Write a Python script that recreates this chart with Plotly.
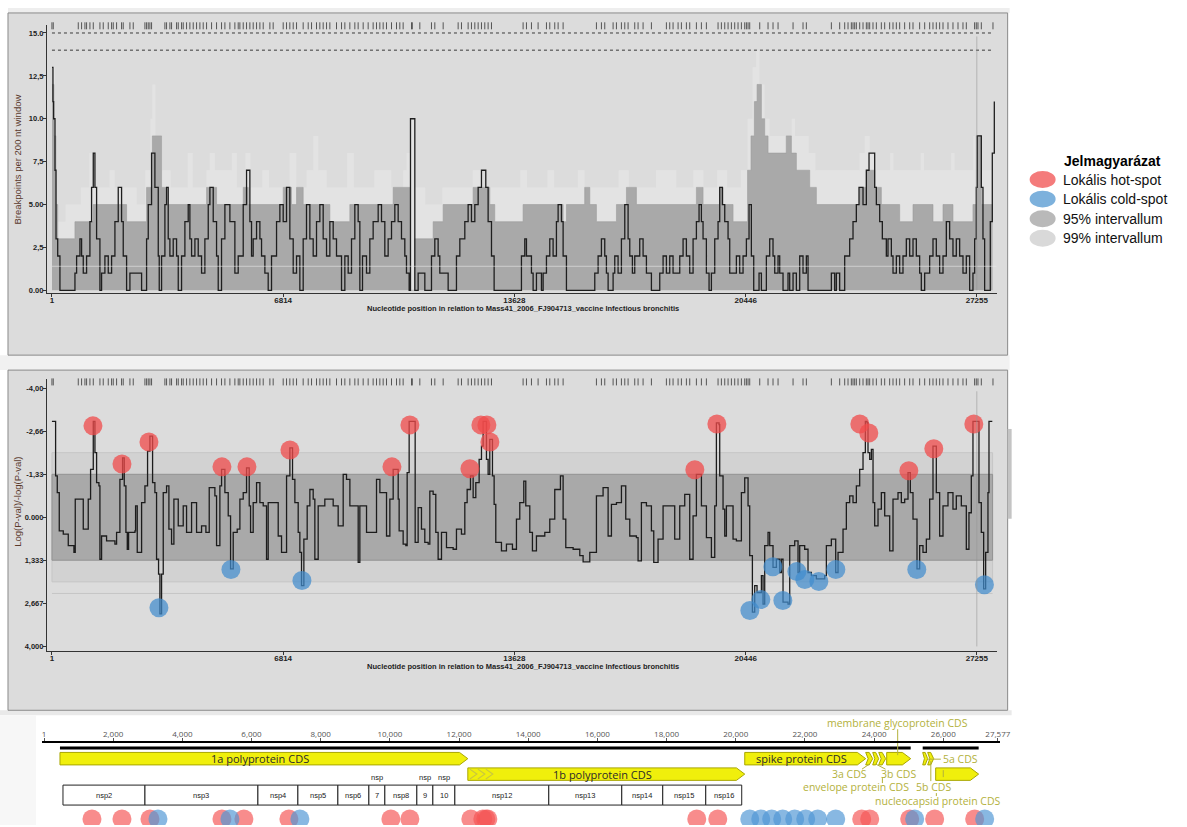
import plotly.graph_objects as go

W, H = 1187, 827
KX = 1.009                # horizontal compensation for the capture's slight squeeze
FONT = "Liberation Sans, Arial, sans-serif"
MAPFONT = "Open Sans, Noto Sans, sans-serif"

# ---------------- axis ticks ----------------
POS_TICKS = [1, 6814, 13628, 20446, 27255]
TOP_YTICKS = [0, 2.5, 5, 7.5, 10, 12.5, 15]
TOP_YTEXT = ["0.00", "2,5", "5.00", "7,5", "10.0", "12,5", "15.0"]
MID_YTICKS = [-4, -2.66, -1.33, 0, 1.333, 2.667, 4]
MID_YTEXT = ["-4,00", "-2,66", "-1,33", "0.000", "1,333", "2,667", "4,000"]
GEN_TICKS = [1, 2000, 4000, 6000, 8000, 10000, 12000, 14000, 16000, 18000, 20000, 22000, 24000, 26000, 27577]
GEN_TICKTEXT = ["1", "2,000", "4,000", "6,000", "8,000", "10,000", "12,000", "14,000", "16,000",
                "18,000", "20,000", "22,000", "24,000", "26,000", "27,577"]

# ---------------- top panel: breakpoints per 200 nt window ----------------
bp_pos = [1, 30, 50, 90, 120, 170, 236, 678, 727, 825, 874, 923, 1021, 1119, 1168, 1218, 1267, 1316, 1414,
          1463, 1561, 1660, 1758, 1856, 1954, 2052, 2101, 2200, 2298, 2642, 2789, 2838, 2936, 3034, 3133,
          3162, 3231, 3329, 3378, 3427, 3476, 3574, 3673, 3722, 3820, 3918, 4016, 4065, 4115, 4213, 4311,
          4409, 4507, 4606, 4655, 4753, 4851, 4900, 4998, 5097, 5244, 5391, 5489, 5637, 5735, 5833, 5882,
          5931, 6030, 6128, 6177, 6275, 6373, 6471, 6619, 6717, 6815, 6913, 7011, 7110, 7208, 7306, 7404,
          7502, 7601, 7699, 7797, 7895, 7993, 8092, 8190, 8288, 8386, 8534, 8632, 8730, 8828, 8926, 9024,
          9074, 9152, 9270, 9368, 9466, 9614, 9712, 9810, 9908, 10007, 10105, 10203, 10301, 10399, 10448,
          10527, 10566, 10694, 10792, 10989, 11185, 11283, 11381, 11430, 11676, 11921, 12020, 12167, 12265,
          12363, 12462, 12560, 12658, 12785, 12854, 12953, 13031, 13836, 13934, 13984, 14131, 14180, 14278,
          14426, 14475, 14573, 14671, 14769, 14867, 14917, 15015, 15064, 15162, 15997, 16095, 16193, 16291,
          16340, 16390, 16537, 16586, 16684, 16782, 16881, 16979, 17028, 17106, 17175, 17322, 17421, 17519,
          17666, 17912, 18010, 18108, 18206, 18304, 18501, 18599, 18697, 18795, 18894, 18992, 19070, 19139,
          19188, 19286, 19365, 19434, 19532, 19630, 19679, 19758, 19827, 19925, 19974, 20170, 20268, 20367,
          20465, 20543, 20612, 20681, 20838, 20907, 21054, 21152, 21250, 21300, 21398, 21447, 21545, 21692,
          21741, 21840, 21938, 22036, 22134, 22232, 22282, 22969, 23067, 23116, 23214, 23362, 23509, 23607,
          23705, 23784, 23902, 24000, 24079, 24246, 24295, 24393, 24471, 24589, 24638, 24737, 24786, 24884,
          24982, 25080, 25178, 25277, 25375, 25473, 25571, 25620, 25719, 25866, 25964, 26062, 26160, 26259,
          26357, 26455, 26553, 26651, 26750, 26848, 26946, 27044, 27142, 27191, 27240, 27270, 27388, 27437,
          27486, 27653, 27712, 27771]
bp_val = [13, 11, 10, 7, 3, 2, 0, 1, 2, 3, 2, 1, 2, 4, 6, 8, 6, 3, 0,
          1, 2, 1, 2, 4, 6, 4, 2, 0, 1, 0, 3, 5, 8, 6, 2,
          0, 2, 5, 6, 3, 2, 3, 2, 0, 2, 4, 5, 3, 2, 3, 2,
          1, 3, 5, 6, 4, 2, 0, 3, 5, 4, 1, 2, 5, 7, 4, 2,
          3, 4, 3, 2, 1, 0, 2, 4, 5, 4, 6, 3, 1, 2, 0, 3,
          5, 3, 2, 4, 5, 3, 2, 4, 3, 2, 0, 2, 1, 3, 5, 4,
          0, 2, 1, 3, 4, 5, 4, 2, 3, 4, 5, 4, 3, 2, 1,
          0, 10, 0, 1, 0, 2, 3, 2, 1, 0, 2, 3, 4, 5,
          4, 5, 6, 7, 6, 4, 2, 0, 2, 3, 2, 1, 0, 1,
          0, 1, 2, 3, 2, 4, 5, 4, 2, 0, 1, 2, 3, 2,
          1, 0, 1, 2, 1, 3, 5, 3, 2, 1, 2, 3, 2, 1,
          0, 1, 2, 1, 2, 1, 2, 3, 2, 1, 3, 4, 5, 4,
          3, 1, 0, 1, 3, 4, 6, 5, 4, 3, 1, 2, 1, 2,
          3, 5, 2, 0, 1, 0, 2, 3, 2, 1, 2, 1, 0, 1,
          0, 1, 0, 2, 1, 2, 0, 1, 0, 1, 0, 2, 3, 4,
          5, 6, 5, 7, 8, 6, 5, 4, 3, 2, 3, 2, 1, 2,
          1, 2, 3, 2, 3, 2, 1, 0, 1, 2, 3, 2, 1, 2,
          4, 3, 2, 3, 2, 1, 2, 0, 1, 3, 6, 9, 6, 3,
          0, 4, 8, 11]

ci95_pos = [1, 60, 120, 170, 678, 1218, 2200, 2789, 2960, 3231, 3378, 4557, 4851, 5637, 5784, 6815, 7060,
            7208, 7404, 8190, 8779, 10056, 10566, 10694, 10743, 11234, 11529, 12412, 12903, 13050, 13885,
            15064, 15162, 15700, 15850, 16046, 16636, 16930, 17224, 18992, 19188, 19679, 19777, 20072,
            20500, 20600, 20700, 20780, 20907, 21005, 21103, 21640, 21791, 21938, 22331, 22527, 23804,
            24000, 24246, 24442, 24982, 25375, 25964, 26259, 26553, 27142, 27240, 27388, 27720]
ci95_val = [12, 9, 5, 3, 4, 5, 4, 6, 9, 6, 5, 6, 5, 6, 5, 6, 5,
            6, 5, 4, 5, 6, 0, 3, 3, 4, 5, 6, 5, 4, 5,
            4, 5, 6, 5, 4, 5, 6, 5, 6, 5, 6, 5, 4,
            7, 9, 11, 12, 10, 9, 8, 9, 8, 7, 6, 5, 6,
            7, 6, 5, 4, 5, 4, 5, 4, 5, 9, 5, 5]

ci99_pos = [1, 90, 150, 400, 850, 1100, 1300, 1700, 1850, 2500, 2750, 2900, 2960, 3050, 3250, 3500, 4000,
            4150, 4550, 4650, 4800, 5300, 5450, 5700, 5850, 6200, 6400, 7000, 7200, 7500, 7700, 7850, 8100,
            8700, 8900, 9500, 10000, 10350, 10450, 10566, 10694, 11000, 11500, 12400, 12700, 13800, 14000,
            14600, 14800, 15500, 15700, 16700, 17000, 17800, 18400, 18900, 19200, 19600, 19900, 20300, 20500,
            20650, 20750, 20850, 21000, 21150, 21800, 21900, 22300, 22500, 23800, 23950, 24100, 24300, 24700,
            24800, 25600, 25700, 26500, 26600, 27150, 27350, 27720]
ci99_val = [13, 9, 4, 5, 6, 8, 6, 7, 6, 5, 7, 10, 12, 9, 7, 6, 8,
            6, 7, 8, 7, 8, 6, 8, 6, 7, 6, 8, 6, 7, 9, 7, 6,
            8, 6, 7, 6, 7, 8, 10, 6, 5, 6, 7, 6, 7, 6,
            7, 6, 7, 6, 7, 6, 7, 6, 7, 6, 7, 6, 7, 10,
            13, 14, 12, 10, 9, 10, 9, 8, 7, 8, 9, 8, 7, 8,
            7, 8, 7, 8, 7, 9, 7, 7]

rug_pos = [0, 39, 776, 874, 972, 1021, 1119, 1218, 1414, 1512, 1660, 1758, 1807, 1905, 2052, 2101, 2298, 2396,
           2740, 2789, 2838, 2887, 2936, 3329, 3378, 3476, 3525, 3673, 3722, 3820, 3869, 3967, 4065, 4164,
           4262, 4360, 4458, 4557, 4704, 4851, 4998, 5097, 5244, 5391, 5489, 5538, 5637, 5735, 5833, 5931,
           6030, 6128, 6226, 6422, 6520, 6815, 6913, 7011, 7110, 7208, 7404, 7552, 7650, 7797, 7895, 7993,
           8092, 8190, 8386, 8534, 8632, 8779, 8926, 9024, 9172, 9319, 9466, 9565, 9663, 9761, 9859, 10007,
           10154, 10252, 10350, 10596, 10620, 10841, 11185, 11283, 11529, 11971, 12069, 12265, 12363, 12462,
           12560, 12658, 12756, 12854, 12953, 13885, 13984, 14131, 14327, 14573, 14671, 14818, 14917, 15064,
           16046, 16193, 16291, 16537, 16635, 16782, 16881, 16979, 17175, 17273, 17421, 17666, 18108, 18206,
           18304, 18452, 18550, 18697, 18795, 18992, 19139, 19286, 19630, 19728, 19827, 19925, 20023, 20121,
           20219, 20318, 20416, 20465, 20514, 20563, 20858, 21103, 21250, 21398, 21840, 22134, 22232, 22969,
           23214, 23362, 23460, 23558, 23607, 23656, 23705, 23804, 23902, 24000, 24049, 24098, 24196, 24295,
           24442, 24540, 24687, 24786, 24884, 24982, 25129, 25277, 25375, 25571, 25719, 25866, 25964, 26062,
           26160, 26259, 26406, 26553, 26701, 26848, 26946, 27191, 27240, 27289, 27388, 27732]

# ---------------- middle panel: log(P) ----------------
mid_pos = [0, 88, 108, 157, 216, 334, 481, 648, 687, 874, 923, 1041, 1070, 1139, 1218, 1267, 1316, 1385,
           1414, 1463, 1610, 1856, 1905, 2003, 2082, 2131, 2180, 2220, 2259, 2446, 2465, 2514, 2612, 2642,
           2740, 2818, 2887, 2966, 3034, 3083, 3142, 3182, 3231, 3280, 3378, 3447, 3525, 3594, 3722, 3869,
           3967, 4115, 4262, 4409, 4537, 4635, 4802, 4851, 4949, 4999, 5097, 5195, 5264, 5342, 5460, 5539,
           5637, 5735, 5814, 5853, 5931, 6030, 6128, 6226, 6324, 6373, 6619, 6668, 6766, 6835, 6914, 7012,
           7090, 7159, 7257, 7306, 7355, 7424, 7522, 7601, 7699, 7748, 7846, 8042, 8288, 8435, 8583, 8681,
           8780, 9025, 9074, 9271, 9565, 9664, 9860, 9958, 10056, 10204, 10232, 10350, 10429, 10468, 10527,
           10664, 10704, 10792, 10890, 10988, 11087, 11136, 11234, 11312, 11381, 11480, 11627, 11823, 11921,
           12068, 12167, 12236, 12334, 12413, 12491, 12589, 12658, 12707, 12756, 12805, 12854, 12903, 12982,
           13031, 13080, 13247, 13394, 13571, 13689, 13787, 13905, 13964, 14082, 14160, 14278, 14524, 14671,
           14818, 14985, 15064, 15143, 15359, 15555, 15653, 15850, 16046, 16242, 16390, 16488, 16636, 16783,
           16910, 17028, 17224, 17273, 17371, 17519, 17666, 17735, 17862, 18010, 18206, 18353, 18501, 18648,
           18795, 18894, 18992, 19140, 19287, 19434, 19532, 19581, 19660, 19679, 19777, 19827, 19876, 20023,
           20072, 20170, 20318, 20416, 20514, 20563, 20642, 20710, 20779, 20907, 20956, 21005, 21103, 21152,
           21250, 21349, 21447, 21496, 21545, 21692, 21742, 21889, 21987, 22036, 22183, 22281, 22380, 22527,
           22674, 22773, 22822, 22969, 23097, 23166, 23313, 23411, 23509, 23607, 23706, 23804, 23902, 23971,
           24020, 24049, 24099, 24148, 24197, 24246, 24344, 24442, 24541, 24688, 24786, 24933, 25031, 25130,
           25228, 25296, 25375, 25493, 25571, 25669, 25768, 25866, 25964, 26062, 26160, 26259, 26406, 26553,
           26651, 26799, 26946, 27024, 27093, 27142, 27260, 27319, 27388, 27457, 27516, 27584, 27614, 27712]
mid_val = [-2.97, -2.97, -1.28, -0.76, 0.42, 0.52, 0.88, 1.09, -0.56, -0.56, 0.37, 0.37, -0.56, -1.48, -2.97,
           -2.0, -1.07, -0.97, 1.30, 0.58, 0.73, 0.83, 0.47, -1.17, -1.84, -0.97, 0.47, 0.99, 0.47, 0.42,
           -0.35, 1.09, 1.09, -0.45, -0.97, -2.05, -2.51, -1.07, -0.76, 1.30, 1.76, 2.99, 1.76, -0.76, -0.97,
           0.37, 0.83, -0.56, 0.27, -0.35, 0.47, -0.45, 0.47, 0.27, 0.47, -0.92, -0.66, 0.88, -0.97, -1.48,
           -0.76, -0.04, 1.60, 0.47, 0.37, -0.56, -0.76, -1.53, -0.35, 0.47, -0.45, -1.07, -0.45, -0.35, 1.30,
           -0.45, -0.45, 0.58, 1.09, 1.09, -1.28, -2.15, -1.17, -0.45, 0.47, 1.09, 2.12, 0.68, -0.35, -0.86,
           -0.56, 1.30, -0.35, -0.56, -0.35, 0.27, -1.33, -1.17, -0.35, 1.40, -0.35, 0.47, -1.17, -0.76, 0.58,
           -0.56, -1.48, -0.56, 0.42, 0.83, 0.88, -1.38, -2.97, -2.97, 0.78, -0.30, 0.37, 0.78, 0.83, -0.81,
           -0.71, 0.47, 1.30, 0.47, 0.94, 0.99, 0.37, 0.52, -0.45, -0.86, -1.28, -0.61, -1.07, -1.79, -2.20,
           -2.97, -2.97, -1.79, -1.33, -2.41, -1.28, -0.40, 0.78, 1.04, 0.83, 0.99, 0.06, -0.45, -1.12, -0.35,
           0.47, 1.04, 0.58, 0.47, 0.06, -0.86, -1.28, 0.06, 0.94, 0.99, 1.19, 1.38, 1.09, -0.66, -0.92, 0.58,
           -0.40, -0.45, -0.97, 0.06, 0.58, 0.63, 1.35, -0.45, -0.35, 0.42, 1.40, 0.68, -0.35, -0.35, 0.68,
           -0.35, -0.71, 1.30, -0.04, -1.33, -0.35, 0.63, 1.24, -0.35, -2.92, -2.87, -1.28, -0.25, 0.58, -0.35,
           -0.35, 0.68, 0.73, -0.76, -1.22, -0.35, 1.19, 2.94, 2.12, 2.33, 1.81, 2.69, 0.88, 0.47, 0.88, 1.55,
           1.30, 1.71, 1.30, 2.63, 2.69, 0.88, 0.73, 1.71, 0.88, 0.99, 1.71, 1.81, 1.91, 1.91, 1.81, 0.88,
           0.68, 1.71, 1.09, 0.37, -0.45, -0.66, -0.45, -0.97, -1.48, -2.0, -2.97, -2.92, -2.0, -1.79, -2.10,
           -0.45, 0.27, -0.25, -0.76, -0.04, 1.04, -0.56, -0.76, -0.45, -0.56, -1.38, -0.76, 0.06, 1.60, 0.88,
           1.09, 0.68, -0.56, -2.20, -0.76, 0.58, -0.35, -0.76, -0.25, -0.66, -0.35, 0.99, -0.14, -1.28,
           -2.97, -2.97, -0.45, 0.47, 2.22, 1.09, -0.76, -2.97, -2.97]

hot_pos = [1209, 2064, 2859, 5010, 5746, 7013, 10019, 10549, 12317, 12641, 12818, 12906, 18946, 19595,
           23808, 24073, 25252, 25988, 27167]
hot_val = [-2.83, -1.65, -2.33, -1.56, -1.56, -2.08, -1.56, -2.86, -1.50, -2.86, -2.86, -2.33, -1.47,
           -2.89, -2.89, -2.61, -1.44, -2.12, -2.89]
cold_pos = [3153, 5275, 7367, 20567, 20891, 21245, 21539, 21952, 22188, 22600, 23101, 25487, 27480]
cold_val = [2.80, 1.62, 1.96, 2.89, 2.55, 1.53, 2.58, 1.68, 1.93, 1.99, 1.62, 1.62, 2.09]

BAND95 = 1.33
BAND99 = 2.0
REF_LINE = 2.36
BAND_END = 27720

# ---------------- bottom panel: genome map ----------------
cds_names = ["1a polyprotein CDS", "1b polyprotein CDS", "spike protein CDS", "3a CDS", "3b CDS",
             "envelope protein CDS", "membrane glycoprotein CDS", "5a CDS", "5b CDS", "nucleocapsid protein CDS"]
cds_start = [462, 12254, 20260, 23757, 23960, 24133, 24364, 25405, 25549, 25780]
cds_end = [12254, 20260, 23757, 23960, 24133, 24335, 25058, 25549, 25723, 27023]
cds_row = [0, 1, 0, 0, 0, 0, 0, 0, 0, 1]
cds_inside_label = [True, True, True, False, False, False, False, False, False, False]

out_lbl_text = ["membrane glycoprotein CDS", "3a CDS", "3b CDS", "envelope protein CDS", "5a CDS",
                "5b CDS", "nucleocapsid protein CDS"]
out_lbl_pos = [24682, 23290, 24700, 23470, 26510, 25720, 25850]
out_lbl_row = [725, 776, 776, 789, 761, 789, 803]

cov_start = [462, 25405]
cov_end = [25058, 27023]

nsp_names = ["nsp2", "nsp3", "nsp4", "nsp5", "nsp6", "7", "nsp8", "9", "10", "nsp12", "nsp13", "nsp14",
             "nsp15", "nsp16"]
nsp_start = [549, 2919, 6185, 7341, 8497, 9393, 9855, 10780, 11243, 11879, 14595, 16705, 17890, 19133]
nsp_end = [2919, 6185, 7341, 8497, 9393, 9855, 10780, 11243, 11879, 14595, 16705, 17890, 19133, 20173]
nsp_prefix_above = ["7", "9", "10"]

map_hot_pos = [1387, 2254, 3064, 5145, 5780, 7081, 10029, 10578, 12341, 12688, 12775, 12832, 18873, 19480,
               23642, 23873, 25029, 25751, 26908]
map_cold_pos = [3295, 5376, 7399, 20405, 20723, 21040, 21358, 21705, 22023, 22370, 22890, 25173, 27197]

legend_labels = ["Lokális hot-spot", "Lokális cold-spot", "95% intervallum", "99% intervallum"]
legend_colors = ["#f47b7b", "#7db1dc", "#b9b9b9", "#d9d9d9"]

# ---------------- styling constants ----------------
BG = "#dcdcdc"
HOT = "rgba(240,75,75,0.75)"
COLD = "rgba(65,140,205,0.72)"
MAP_HOT = "rgba(245,85,85,0.68)"
MAP_COLD = "rgba(80,150,212,0.68)"
CDS_FILL = "#f0ef0c"
CDS_LINE = "#a9a600"
LBL_COL = "#b3b13c"
ROW_Y = {0: 760.5, 1: 776.0}
ARROW_H = 12.5
HEAD = 240
BOX_TOP, BOX_BOT = 787, 807
DOT_Y = 821
COV_Y = 749.8


def px(x):
    return x * KX / W


def py(y):
    return 1 - y / H


fig = go.Figure()

# ---- top panel traces ----
fig.add_trace(go.Scatter(x=ci99_pos, y=ci99_val, mode="lines", line=dict(shape="hv", width=0, color="#e3e3e3"),
                         fill="tozeroy", fillcolor="#e3e3e3", xaxis="x", yaxis="y", hoverinfo="skip",
                         showlegend=False))
fig.add_trace(go.Scatter(x=ci95_pos, y=ci95_val, mode="lines", line=dict(shape="hv", width=0.6, color="#9c9c9c"),
                         fill="tozeroy", fillcolor="#a9a9a9", xaxis="x", yaxis="y", hoverinfo="skip",
                         showlegend=False))
fig.add_trace(go.Scatter(x=bp_pos, y=bp_val, mode="lines", line=dict(shape="hv", width=1.3, color="#1e1e1e"),
                         xaxis="x", yaxis="y", showlegend=False))
fig.add_trace(go.Scatter(x=rug_pos, y=[15.42] * len(rug_pos), mode="markers",
                         marker=dict(symbol="line-ns", size=5, line=dict(width=1, color="#555")),
                         xaxis="x", yaxis="y", hoverinfo="skip", showlegend=False, cliponaxis=False))

# ---- middle panel traces ----
fig.add_trace(go.Scatter(x=mid_pos, y=mid_val, mode="lines", line=dict(shape="hv", width=1.3, color="#1c1c1c"),
                         xaxis="x2", yaxis="y2", showlegend=False))
fig.add_trace(go.Scatter(x=rug_pos, y=[-4.19] * len(rug_pos), mode="markers",
                         marker=dict(symbol="line-ns", size=5, line=dict(width=1, color="#555")),
                         xaxis="x2", yaxis="y2", hoverinfo="skip", showlegend=False, cliponaxis=False))
fig.add_trace(go.Scatter(x=hot_pos, y=hot_val, mode="markers", marker=dict(size=19, color=HOT, line=dict(width=0)),
                         xaxis="x2", yaxis="y2", showlegend=False))
fig.add_trace(go.Scatter(x=cold_pos, y=cold_val, mode="markers",
                         marker=dict(size=19, color=COLD, line=dict(width=0)),
                         xaxis="x2", yaxis="y2", showlegend=False))

# ---- bottom panel: genome map ----
for s, e in zip(cov_start, cov_end):
    fig.add_trace(go.Scatter(x=[s, e], y=[COV_Y, COV_Y], mode="lines", line=dict(width=3.2, color="#000"),
                             xaxis="x3", yaxis="y3", hoverinfo="skip", showlegend=False))

for name, s, e, r in zip(cds_names, cds_start, cds_end, cds_row):
    yc = ROW_Y[r]
    top, bot = yc - ARROW_H / 2, yc + ARROW_H / 2
    L = e - s
    if L > 2.5 * HEAD:
        xs = [s, e - HEAD, e, e - HEAD, s, s]
        ys = [top, top, yc, bot, bot, top]
    else:
        xs = [s, s + 0.5 * L, e, s + 0.5 * L, s, s + 0.35 * L, s]
        ys = [top, top, yc, bot, bot, yc, top]
    fig.add_trace(go.Scatter(x=xs, y=ys, mode="lines", fill="toself", fillcolor=CDS_FILL,
                             line=dict(width=1, color=CDS_LINE), xaxis="x3", yaxis="y3",
                             hoverinfo="text", text=name, showlegend=False))

s1b = cds_start[1]
for k in range(3):
    x0 = s1b + 60 + k * 230
    fig.add_trace(go.Scatter(x=[x0, x0 + 200, x0], y=[ROW_Y[1] - 5, ROW_Y[1], ROW_Y[1] + 5], mode="lines",
                             line=dict(width=1.2, color="#c9c640"), xaxis="x3", yaxis="y3",
                             hoverinfo="skip", showlegend=False))

leaders = [
    ([out_lbl_pos[0], out_lbl_pos[0]], [731, 757]),
    ([23860, 23650], [766, 771]),
    ([24050, 24330], [766, 771]),
    ([24240, 24240], [780, 785]),
    ([25560, 25930], [761, 761]),
    ([25640, 25640], [763, 783]),
    ([26000, 26000], [772, 779]),
    ([25800, 25800], [795, 798]),
]
for lx, ly in leaders:
    fig.add_trace(go.Scatter(x=lx, y=ly, mode="lines", line=dict(width=1, color=LBL_COL),
                             xaxis="x3", yaxis="y3", hoverinfo="skip", showlegend=False))

fig.add_trace(go.Scatter(x=map_hot_pos, y=[DOT_Y] * len(map_hot_pos), mode="markers",
                         marker=dict(size=19, color=MAP_HOT, line=dict(width=0)),
                         xaxis="x3", yaxis="y3", showlegend=False))
fig.add_trace(go.Scatter(x=map_cold_pos, y=[DOT_Y] * len(map_cold_pos), mode="markers",
                         marker=dict(size=19, color=MAP_COLD, line=dict(width=0)),
                         xaxis="x3", yaxis="y3", showlegend=False))

# ---------------- shapes ----------------
shapes = []
shapes.append(dict(type="rect", xref="paper", yref="paper", x0=px(8), x1=px(1010), y0=py(13), y1=py(8),
                   fillcolor="#eeeeee", line=dict(width=0), layer="below"))
shapes.append(dict(type="rect", xref="paper", yref="paper", x0=px(0), x1=px(1010), y0=py(371), y1=py(356),
                   fillcolor="#f1f1f1", line=dict(width=0), layer="below"))
shapes.append(dict(type="rect", xref="paper", yref="paper", x0=px(0), x1=px(1012), y0=py(717), y1=py(712),
                   fillcolor="#e9e9e9", line=dict(width=0), layer="below"))
shapes.append(dict(type="rect", xref="paper", yref="paper", x0=px(0), x1=px(36), y0=0, y1=py(717),
                   fillcolor="#f7f7f7", line=dict(width=0), layer="below"))
for y0, y1 in [(13, 356), (371, 712)]:
    shapes.append(dict(type="rect", xref="paper", yref="paper", x0=px(8), x1=px(1008), y0=py(y1), y1=py(y0),
                       fillcolor=BG, line=dict(width=1, color="#8a8a8a"), layer="below"))
shapes.append(dict(type="rect", xref="paper", yref="paper", x0=px(1008), x1=px(1012), y0=py(520), y1=py(430),
                   fillcolor="#c4c4c4", line=dict(width=0), layer="below"))

for lvl in [15, 14]:
    shapes.append(dict(type="line", xref="x", yref="y", x0=1, x1=BAND_END - 30, y0=lvl, y1=lvl,
                       line=dict(width=1, color="#3a3a3a", dash="dot"), layer="above"))
shapes.append(dict(type="line", xref="x", yref="y", x0=1, x1=27840, y0=1.4, y1=1.4,
                   line=dict(width=1, color="rgba(235,235,235,0.55)"), layer="above"))

shapes.append(dict(type="rect", xref="x2", yref="y2", x0=1, x1=BAND_END, y0=-BAND99, y1=BAND99,
                   fillcolor="#d2d2d2", line=dict(width=1, color="#c6c6c6"), layer="below"))
shapes.append(dict(type="rect", xref="x2", yref="y2", x0=1, x1=BAND_END, y0=-BAND95, y1=BAND95,
                   fillcolor="#a9a9a9", line=dict(width=1, color="#939393"), layer="below"))
shapes.append(dict(type="line", xref="x2", yref="y2", x0=1, x1=BAND_END, y0=REF_LINE, y1=REF_LINE,
                   line=dict(width=1, color="#c6c6c6"), layer="below"))

shapes.append(dict(type="line", xref="x", yref="y", x0=POS_TICKS[-1], x1=POS_TICKS[-1], y0=0, y1=14.8,
                   line=dict(width=1, color="rgba(150,150,150,0.55)"), layer="above"))
shapes.append(dict(type="line", xref="x2", yref="y2", x0=POS_TICKS[-1], x1=POS_TICKS[-1], y0=4, y1=-3.9,
                   line=dict(width=1, color="rgba(150,150,150,0.55)"), layer="above"))

for s, e in zip(nsp_start, nsp_end):
    shapes.append(dict(type="rect", xref="x3", yref="y3", x0=s, x1=e, y0=BOX_TOP, y1=BOX_BOT,
                       fillcolor="white", line=dict(width=1, color="#222"), layer="below"))

for i, c in enumerate(legend_colors):
    cy = 180 + i * 19.6
    shapes.append(dict(type="circle", xref="paper", yref="paper", x0=px(1030), x1=px(1056),
                       y0=py(cy + 8.5), y1=py(cy - 8.5), fillcolor=c, line=dict(width=0)))

# ---------------- annotations ----------------
ann = []


def pann(x, y, text, size, color="#222", xanchor="center", angle=0, family=FONT):
    return dict(xref="paper", yref="paper", x=px(x), y=py(y), text=text, showarrow=False,
                xanchor=xanchor, yanchor="middle", textangle=angle,
                font=dict(family=family, size=size, color=color))


ann.append(pann(18, 160, "Breakpoints per 200 nt window", 9.5, "#5a3a2c", angle=-90))
ann.append(pann(18, 503, "Log(P-val)/-log(P-val)", 9.5, "#5a3a2c", angle=-90))
xtitle = "<b>Nucleotide position in relation to Mass41_2006_FJ904713_vaccine Infectious bronchitis</b>"
ann.append(pann(523, 309, xtitle, 7.5))
ann.append(pann(523, 668, xtitle, 7.5))

for name, s, e, r, inside in zip(cds_names, cds_start, cds_end, cds_row, cds_inside_label):
    if inside:
        ann.append(dict(xref="x3", yref="y3", x=(s + e - HEAD) / 2, y=ROW_Y[r], text=name, showarrow=False,
                        xanchor="center", yanchor="middle",
                        font=dict(family=MAPFONT, size=11, color="#2a2a2a")))
for t, xp, yr in zip(out_lbl_text, out_lbl_pos, out_lbl_row):
    ann.append(dict(xref="x3", yref="y3", x=xp, y=yr, text=t, showarrow=False, xanchor="center",
                    yanchor="middle", font=dict(family=MAPFONT, size=10.5, color=LBL_COL)))
for n, s, e in zip(nsp_names, nsp_start, nsp_end):
    ann.append(dict(xref="x3", yref="y3", x=(s + e) / 2, y=(BOX_TOP + BOX_BOT) / 2, text=n, showarrow=False,
                    xanchor="center", yanchor="middle", font=dict(family=FONT, size=7.5, color="#222")))
    if n in nsp_prefix_above:
        ann.append(dict(xref="x3", yref="y3", x=(s + e) / 2, y=BOX_TOP - 8, text="nsp", showarrow=False,
                        xanchor="center", yanchor="middle", font=dict(family=FONT, size=7.5, color="#222")))

ann.append(pann(1062, 161, "<b>Jelmagyarázat</b>", 14, "#000", xanchor="left"))
for i, lab in enumerate(legend_labels):
    ann.append(pann(1061, 180 + i * 19.6, lab, 14, "#111", xanchor="left"))

# ---------------- layout ----------------
tick_font = dict(family=FONT, size=8, color="#222", weight="bold")
ytick_font = dict(family=FONT, size=7.5, color="#222", weight="bold")
common_x = dict(tickvals=POS_TICKS, ticktext=[str(t) for t in POS_TICKS], ticks="outside", ticklen=3,
                tickcolor="#333", showline=True, linecolor="#333", linewidth=1, showgrid=False,
                zeroline=False, tickfont=tick_font, ticklabelstandoff=-4)
common_y = dict(ticks="outside", ticklen=3, tickcolor="#333", showline=True, linecolor="#333", linewidth=1,
                showgrid=False, zeroline=False, tickfont=ytick_font, ticklabelstandoff=-2)
fig.update_layout(
    width=W, height=H, margin=dict(l=0, r=0, t=0, b=0),
    paper_bgcolor="white", plot_bgcolor="rgba(0,0,0,0)",
    showlegend=False,
    xaxis=dict(domain=[px(47), px(997)], range=[-146, 27840], anchor="y", **common_x),
    yaxis=dict(domain=[py(294), py(25)], range=[-0.174, 15.47], anchor="x", tickvals=TOP_YTICKS,
               ticktext=TOP_YTEXT, **common_y),
    xaxis2=dict(domain=[px(47), px(997)], range=[-146, 27840], anchor="y2", **common_x),
    yaxis2=dict(domain=[py(653), py(380)], range=[4.154, -4.278], anchor="x2", tickvals=MID_YTICKS,
                ticktext=MID_YTEXT, **common_y),
    xaxis3=dict(domain=[px(42), px(1000)], range=[-58, 27630], anchor="free", position=py(744), side="top",
                tickvals=GEN_TICKS, ticktext=GEN_TICKTEXT, ticks="outside", ticklen=3, tickcolor="#555",
                showline=True, linecolor="#000", linewidth=2, showgrid=False, zeroline=False,
                tickfont=dict(family=MAPFONT, size=8, color="#555"), ticklabelstandoff=-2),
    yaxis3=dict(domain=[0, py(715)], range=[H, 715], anchor="x3", visible=False),
    shapes=shapes,
    annotations=ann,
)

fig.write_html("out.html", config={"displayModeBar": False},
               post_script="document.body.style.margin='0';document.body.style.overflow='hidden';")
